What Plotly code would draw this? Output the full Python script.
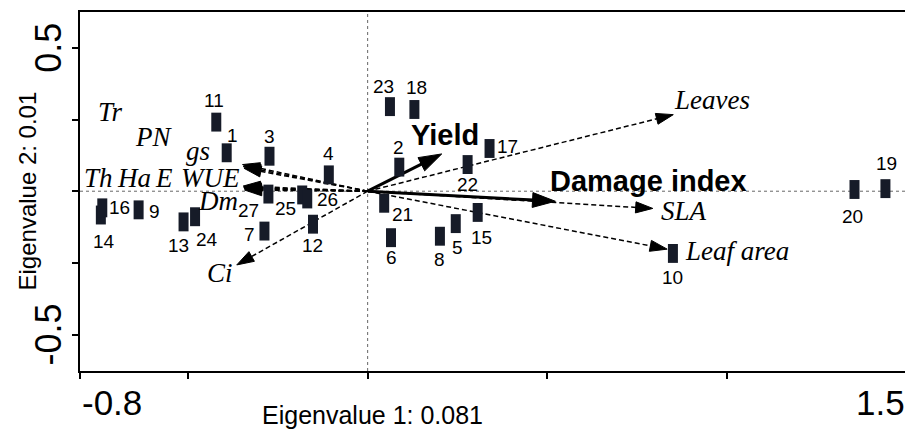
import plotly.graph_objects as go

# ---------------- data ----------------
site_labels = ["1", "2", "3", "4", "5", "6", "7", "8", "9", "10", "11", "12", "13", "14",
               "15", "16", "17", "18", "19", "20", "21", "22", "23", "24", "25", "26", "27"]
site_x = [-0.392, 0.088, -0.273, -0.108, 0.245, 0.065, -0.287, 0.201, -0.637, 0.849,
          -0.421, -0.152, -0.512, -0.742, 0.306, -0.738, 0.339, 0.130, 1.440, 1.354,
          0.046, 0.278, 0.062, -0.480, -0.182, -0.168, -0.276]
site_y = [0.134, 0.084, 0.122, 0.057, -0.113, -0.162, -0.139, -0.157, -0.065, -0.217,
          0.241, -0.115, -0.107, -0.083, -0.074, -0.058, 0.149, 0.285, 0.009, 0.006,
          -0.042, 0.093, 0.295, -0.089, -0.013, -0.027, -0.010]

var_names = ["Tr", "PN", "gs", "Th", "Ha", "E", "WUE", "Dm", "Ci", "Leaves", "SLA", "Leaf area"]
var_x = [-0.348, -0.346, -0.344, -0.346, -0.345, -0.344, -0.343, -0.342, -0.364, 0.850, 0.793, 0.833]
var_y = [0.093, 0.086, 0.080, 0.018, 0.014, 0.011, 0.008, 0.004, -0.257, 0.267, -0.060, -0.202]

resp_names = ["Yield", "Damage index"]
resp_x = [0.206, 0.522]
resp_y = [0.130, -0.035]

x_tick_vals = [-0.8, -0.5, 0.0, 0.5, 1.0, 1.5]
x_tick_text = ["-0.8", "", "", "", "", "1.5"]
y_tick_vals = [-0.5, -0.25, 0.0, 0.25, 0.5]
y_tick_text = ["-0.5", "", "", "", "0.5"]
x_title = "Eigenvalue 1: 0.081"
y_title = "Eigenvalue 2: 0.01"

# ---------------- styling / placement (pixel offsets) ----------------
site_label_offsets = {  # (xshift, yshift) in px
    "1": (6, 17), "2": (-1, 20), "3": (0, 20), "4": (0, 21), "5": (2, -24), "6": (0, -20),
    "7": (-15, -3), "8": (0, -23), "9": (16, -2), "10": (0, -24), "11": (-2, 22),
    "12": (-1, -21), "13": (-5, -24), "14": (3, -26), "15": (4, -25), "16": (17, 0),
    "17": (18, 2), "18": (2, 22), "19": (1, 25), "20": (-2, -27), "21": (18, -11),
    "22": (0, -20), "23": (-6, 20), "24": (12, -23), "25": (-17, -14), "26": (20, -1),
    "27": (-20, -16),
}
var_label_offsets = {
    "Tr": (-132, 53), "PN": (-90, 30), "gs": (-46, 17), "Th": (-145, 8), "Ha": (-110, 9),
    "E": (-80, 10), "WUE": (-34, 11), "Dm": (-27, -11), "Ci": (-17, -8),
    "Leaves": (39, 15), "SLA": (31, -3), "Leaf area": (70, -2),
}
resp_label_offsets = {"Yield": (3, 19), "Damage index": (93, 20)}

SANS = "Liberation Sans, Arial, sans-serif"
SERIF = "Liberation Serif, Times New Roman, serif"
MARK = "#161b28"

fig = go.Figure()

# environmental / physiological vectors (dashed)
for name, vx, vy in zip(var_names, var_x, var_y):
    fig.add_trace(go.Scatter(
        x=[0, vx], y=[0, vy], mode="lines+markers", hoverinfo="skip", showlegend=False,
        line=dict(color="black", width=1.5, dash="5px,3px"),
        marker=dict(symbol=["circle", "arrow"], size=[0, 18], angleref="previous",
                    color="black", opacity=1, line=dict(width=1, color="black")),
    ))

# response vectors (bold)
for name, vx, vy in zip(resp_names, resp_x, resp_y):
    fig.add_trace(go.Scatter(
        x=[0, vx], y=[0, vy], mode="lines+markers", hoverinfo="skip", showlegend=False,
        line=dict(color="black", width=3),
        marker=dict(symbol=["circle", "arrow"], size=[0, 24], angleref="previous",
                    color="black", opacity=1, line=dict(width=1, color="black")),
    ))

# sites: tall dark rectangles
fig.add_trace(go.Scatter(
    x=site_x, y=site_y, mode="markers", showlegend=False, text=site_labels,
    marker=dict(symbol="line-ns", size=13.5, color=MARK, line=dict(width=10, color=MARK)),
))

ann = []
for lab, sx, sy in zip(site_labels, site_x, site_y):
    dx, dy = site_label_offsets[lab]
    ann.append(dict(x=sx, y=sy, xref="x", yref="y", text=lab, showarrow=False,
                    xshift=dx, yshift=dy, font=dict(family=SANS, size=19, color="black")))
for name, vx, vy in zip(var_names, var_x, var_y):
    dx, dy = var_label_offsets[name]
    ann.append(dict(x=vx, y=vy, xref="x", yref="y", text="<i>%s</i>" % name, showarrow=False,
                    xshift=dx, yshift=dy, font=dict(family=SERIF, size=27, color="black")))
for name, vx, vy in zip(resp_names, resp_x, resp_y):
    dx, dy = resp_label_offsets[name]
    ann.append(dict(x=vx, y=vy, xref="x", yref="y", text="<b>%s</b>" % name, showarrow=False,
                    xshift=dx, yshift=dy, font=dict(family=SANS, size=29, color="black")))

# tick labels (placed at ends like the original)
labelled_x = [(v, t) for v, t in zip(x_tick_vals, x_tick_text) if t]
for i, (v, t) in enumerate(labelled_x):
    ann.append(dict(x=v, y=0, xref="x", yref="paper", text=t, showarrow=False,
                    xanchor="left" if i == 0 else "right", yanchor="middle", yshift=-31,
                    font=dict(family=SANS, size=35, color="black")))
for v, t in zip(y_tick_vals, y_tick_text):
    if t:
        ann.append(dict(x=0, y=v, xref="paper", yref="y", text=t, showarrow=False,
                        textangle=-90, xanchor="center", yanchor="middle", xshift=-31,
                        font=dict(family=SANS, size=36, color="black")))

# axis titles
ann.append(dict(x=0.354, y=0, xref="paper", yref="paper", text=x_title, showarrow=False,
                xanchor="center", yanchor="middle", yshift=-44,
                font=dict(family=SANS, size=25, color="black")))
ann.append(dict(x=0, y=0.5, xref="paper", yref="paper", text=y_title, showarrow=False,
                textangle=-90, xanchor="center", yanchor="middle", xshift=-53,
                font=dict(family=SANS, size=24, color="black")))

shapes = [
    dict(type="line", xref="x", yref="paper", x0=0, x1=0, y0=0, y1=1,
         line=dict(color="#666666", width=1, dash="dot"), layer="below"),
    dict(type="line", xref="paper", yref="y", x0=0, x1=1, y0=0, y1=0,
         line=dict(color="#666666", width=1, dash="dot"), layer="below"),
]

# the page body has an 8px margin: size the figure so the plot lands where the original is
fig.update_layout(
    width=905, height=430,
    margin=dict(l=72, r=6, t=2, b=67),
    paper_bgcolor="white", plot_bgcolor="white",
    annotations=ann, shapes=shapes,
    xaxis=dict(range=[-0.8, 1.5], tickmode="array", tickvals=x_tick_vals,
               ticktext=["" for _ in x_tick_text], ticks="outside", ticklen=6,
               tickwidth=1.5, tickcolor="black", showgrid=False, zeroline=False,
               showline=True, mirror=True, linecolor="black", linewidth=1.8),
    yaxis=dict(range=[-0.627, 0.625], tickmode="array", tickvals=y_tick_vals,
               ticktext=["" for _ in y_tick_text], ticks="outside", ticklen=6,
               tickwidth=1.5, tickcolor="black", showgrid=False, zeroline=False,
               showline=True, mirror=True, linecolor="black", linewidth=1.8),
)

fig.write_html("out.html")
